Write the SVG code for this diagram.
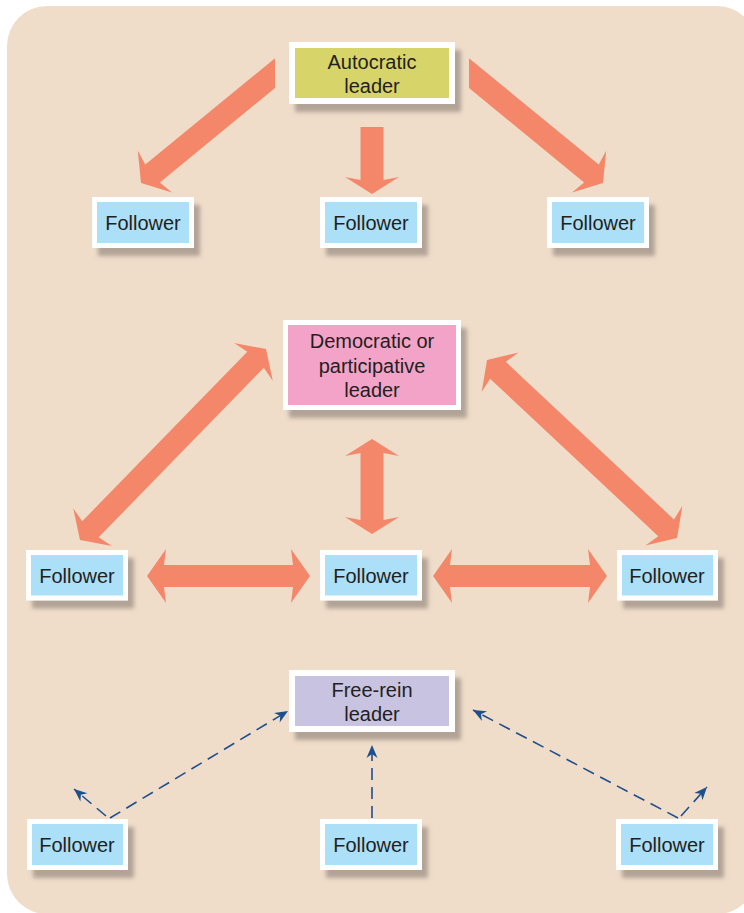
<svg xmlns="http://www.w3.org/2000/svg" width="744" height="913" viewBox="0 0 744 913">
  <defs>
    <filter id="shadow" x="-20%" y="-20%" width="150%" height="160%">
      <feDropShadow dx="6" dy="8" stdDeviation="2" flood-color="#7d736c" flood-opacity="0.55"/>
    </filter>
    <marker id="blueHead" markerUnits="userSpaceOnUse" viewBox="-14 -7 15 14" refX="0" refY="0" markerWidth="15" markerHeight="14" orient="auto" overflow="visible">
      <path d="M0,0 L-13,-5.5 L-9,0 L-13,5.5 Z" fill="#1d4f8f"/>
    </marker>
    <style>
      .bg { fill: #F0DDC9; }
      .box { stroke: #ffffff; filter: url(#shadow); }
      .yellow { fill: #D7D46B; stroke-width: 6; }
      .blue { fill: #ACE0F9; stroke-width: 5; }
      .pink { fill: #F4A3C8; stroke-width: 5; }
      .lav { fill: #C7C3E0; stroke-width: 6; }
      .lbl { font-family: "Liberation Sans", Arial, sans-serif; font-size: 20px; fill: #231F20; text-anchor: middle; }
      .big { fill: #F4876A; }
      .dash { stroke: #1d4f8f; stroke-width: 1.6; stroke-dasharray: 12 7; fill: none; marker-end: url(#blueHead); }
    </style>
  </defs>

  <rect class="bg" x="7" y="6" width="750" height="908" rx="40" ry="40"/>

  <g id="connectors">
    <!-- Autocratic arrows -->
    <polygon class="big" points="275,58.2 145.3,164.6 137.8,150.7 141,183 172,192.5 159.9,182.4 275,88"/>
    <polygon class="big" points="360.5,127 383.5,127 383.5,180 399,177 372,194 345,177 360.5,180"/>
    <polygon class="big" points="469,58.2 598.7,164.6 606.2,150.7 603,183 572,192.5 584.1,182.4 469,88"/>

    <!-- Democratic arrows (double headed) -->
    <polygon class="big" transform="translate(80,540) rotate(-45.76)" points="0,0 18,-27 15,-11.5 251.6,-11.5 248.6,-27 266.6,0 248.6,27 251.6,11.5 15,11.5 18,27"/>
    <polygon class="big" transform="translate(487,360) rotate(43.13)" points="0,0 18,-27 15,-11.5 245.4,-11.5 242.4,-27 260.4,0 242.4,27 245.4,11.5 15,11.5 18,27"/>
    <polygon class="big" transform="translate(372,439) rotate(90)" points="0,0 17,-27 14,-11.5 81,-11.5 78,-27 95,0 78,27 81,11.5 14,11.5 17,27"/>
    <polygon class="big" transform="translate(147,576)" points="0,0 19,-27 17,-11 146,-11 144,-27 163,0 144,27 146,11 17,11 19,27"/>
    <polygon class="big" transform="translate(433,576)" points="0,0 19,-27 17,-11 157,-11 155,-27 174,0 155,27 157,11 17,11 19,27"/>

    <!-- Free-rein dashed arrows -->
    <line class="dash" x1="110" y1="818" x2="288" y2="711"/>
    <line class="dash" x1="106" y1="816" x2="74" y2="789"/>
    <line class="dash" x1="372" y1="818" x2="372" y2="745"/>
    <line class="dash" x1="678" y1="818" x2="473" y2="710"/>
    <line class="dash" x1="681" y1="816" x2="707" y2="787"/>
  </g>

  <!-- Autocratic section -->
  <g id="autocratic-leader">
    <rect class="box yellow" x="292" y="45" width="160" height="56"/>
    <text class="lbl" x="372" y="69">Autocratic</text>
    <text class="lbl" x="372" y="93">leader</text>
  </g>
  <g id="auto-follower-1">
    <rect class="box blue" x="94.5" y="199.5" width="97" height="46"/>
    <text class="lbl" x="143" y="230">Follower</text>
  </g>
  <g id="auto-follower-2">
    <rect class="box blue" x="322.5" y="199.5" width="97" height="46"/>
    <text class="lbl" x="371" y="230">Follower</text>
  </g>
  <g id="auto-follower-3">
    <rect class="box blue" x="549.5" y="199.5" width="97" height="46"/>
    <text class="lbl" x="598" y="230">Follower</text>
  </g>

  <!-- Democratic section -->
  <g id="democratic-leader">
    <rect class="box pink" x="285.5" y="322.5" width="173" height="85"/>
    <text class="lbl" x="372" y="348">Democratic or</text>
    <text class="lbl" x="372" y="373">participative</text>
    <text class="lbl" x="372" y="397">leader</text>
  </g>
  <g id="demo-follower-1">
    <rect class="box blue" x="28.5" y="552.5" width="97" height="45.5"/>
    <text class="lbl" x="77" y="583">Follower</text>
  </g>
  <g id="demo-follower-2">
    <rect class="box blue" x="322.5" y="552.5" width="97" height="45.5"/>
    <text class="lbl" x="371" y="583">Follower</text>
  </g>
  <g id="demo-follower-3">
    <rect class="box blue" x="619.5" y="552.5" width="96" height="45.5"/>
    <text class="lbl" x="667" y="583">Follower</text>
  </g>

  <!-- Free-rein section -->
  <g id="free-rein-leader">
    <rect class="box lav" x="292" y="673" width="160" height="56"/>
    <text class="lbl" x="372" y="697">Free-rein</text>
    <text class="lbl" x="372" y="721">leader</text>
  </g>
  <g id="free-follower-1">
    <rect class="box blue" x="29.5" y="821.5" width="96" height="46"/>
    <text class="lbl" x="77" y="852">Follower</text>
  </g>
  <g id="free-follower-2">
    <rect class="box blue" x="322.5" y="821.5" width="97" height="46"/>
    <text class="lbl" x="371" y="852">Follower</text>
  </g>
  <g id="free-follower-3">
    <rect class="box blue" x="618.5" y="821.5" width="97" height="46"/>
    <text class="lbl" x="667" y="852">Follower</text>
  </g>
</svg>
